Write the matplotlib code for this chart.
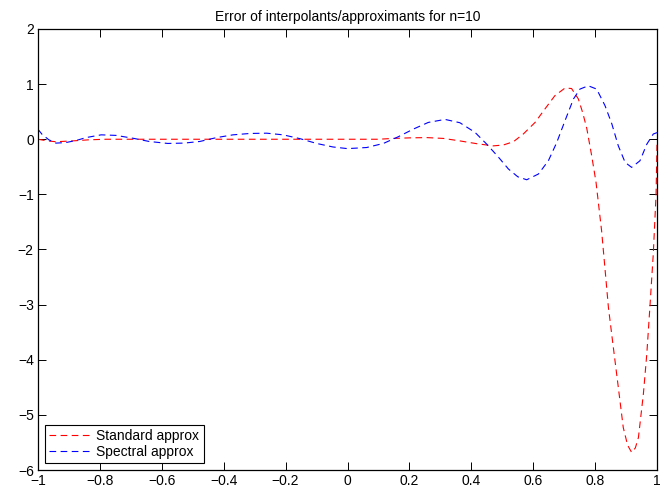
import matplotlib.pyplot as plt

plt.rcParams['font.family'] = ['Liberation Sans', 'DejaVu Sans']

# values
x_standard = [-1.0, -0.97, -0.942, -0.888, -0.835, -0.78, -0.6, -0.4, -0.2, 0.0, 0.1,
              0.147, 0.2, 0.256, 0.31, 0.363, 0.417, 0.471, 0.503, 0.536, 0.568,
              0.606, 0.638, 0.67, 0.703, 0.724, 0.746, 0.76, 0.773, 0.789, 0.803,
              0.821, 0.832, 0.843, 0.859, 0.875, 0.891, 0.905, 0.918, 0.93, 0.94,
              0.956, 0.967, 0.977, 0.988, 0.997, 1.0]
y_standard = [0.0, -0.03, -0.045, -0.03, -0.01, 0.0, 0.0, 0.0, 0.0, 0.0, 0.0,
              0.015, 0.025, 0.03, 0.015, -0.03, -0.08, -0.12, -0.105, -0.045, 0.095,
              0.305, 0.55, 0.79, 0.93, 0.92, 0.73, 0.48, 0.2, -0.3, -0.78,
              -1.66, -2.35, -3.05, -3.78, -4.5, -5.23, -5.55, -5.68, -5.6, -5.41,
              -4.62, -3.9, -3.05, -2.08, -1.0, -0.1]

x_spectral = [-1.0, -0.987, -0.965, -0.942, -0.91, -0.875, -0.845, -0.796, -0.748,
              -0.69, -0.641, -0.581, -0.528, -0.477, -0.423, -0.37, -0.315, -0.261,
              -0.208, -0.153, -0.1, -0.047, 0.0, 0.062, 0.116, 0.164, 0.213, 0.261,
              0.315, 0.363, 0.412, 0.45, 0.487, 0.52, 0.55, 0.579, 0.617, 0.649,
              0.676, 0.703, 0.73, 0.751, 0.778, 0.805, 0.832, 0.854, 0.875, 0.897,
              0.918, 0.945, 0.967, 0.988, 1.0]
y_spectral = [0.18, 0.09, -0.01, -0.07, -0.06, -0.02, 0.03, 0.08, 0.07,
              0.015, -0.04, -0.076, -0.07, -0.04, 0.03, 0.08, 0.105, 0.11,
              0.08, 0.01, -0.076, -0.14, -0.17, -0.15, -0.076, 0.045, 0.185, 0.305,
              0.36, 0.30, 0.125, -0.09, -0.32, -0.54, -0.68, -0.735, -0.63, -0.39,
              -0.06, 0.34, 0.73, 0.91, 0.97, 0.91, 0.61, 0.28, -0.12, -0.42,
              -0.51, -0.39, -0.09, 0.095, 0.12]

x_ticks = [-1, -0.8, -0.6, -0.4, -0.2, 0, 0.2, 0.4, 0.6, 0.8, 1]
x_labels = ['\u22121', '\u22120.8', '\u22120.6', '\u22120.4', '\u22120.2', '0',
            '0.2', '0.4', '0.6', '0.8', '1']
y_ticks = [-6, -5, -4, -3, -2, -1, 0, 1, 2]
y_labels = ['\u22126', '\u22125', '\u22124', '\u22123', '\u22122', '\u22121', '0', '1', '2']

fig = plt.figure(figsize=(6.66, 4.91), dpi=100)
ax = fig.add_axes([38 / 666, 1 - 470 / 491, (657 - 38) / 666, (470 - 29) / 491])

ax.plot(x_standard, y_standard, color='red', linestyle=(0, (6, 4)), linewidth=0.8,
        label='Standard approx')
ax.plot(x_spectral, y_spectral, color='blue', linestyle=(0, (6, 4)), linewidth=0.8,
        label='Spectral approx')

ax.set_xlim(-1, 1)
ax.set_ylim(-6, 2)
ax.set_xticks(x_ticks)
ax.set_xticklabels(x_labels)
ax.set_yticks(y_ticks)
ax.set_yticklabels(y_labels)
ax.tick_params(direction='in', top=True, right=True, length=6, width=0.7,
               labelsize=10, pad=3)
for s in ax.spines.values():
    s.set_linewidth(0.9)

ax.set_title('Error of interpolants/approximants for n=10', fontsize=10, pad=6)

leg = ax.legend(loc='lower left', fontsize=10, fancybox=False, framealpha=1,
                edgecolor='black', handlelength=3, borderaxespad=0.5,
                borderpad=0.3, labelspacing=0.15, handletextpad=0.4)
leg.get_frame().set_linewidth(0.8)

fig.savefig('out.png', dpi=100)
